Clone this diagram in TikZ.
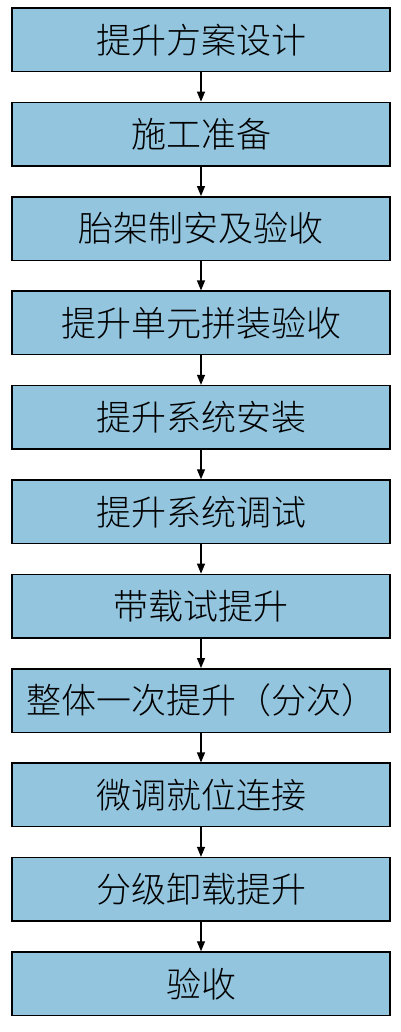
\documentclass[tikz,border=0pt]{standalone}
\usepackage{fontspec}
\newfontfamily\cjk{Noto Sans CJK SC Light}
\usetikzlibrary{arrows.meta}
\definecolor{boxfill}{RGB}{147,197,222}
\begin{document}
\begin{tikzpicture}[x=1pt,y=1pt,
  stepbox/.style={draw=black,line width=1.5pt,fill=boxfill,minimum width=378pt,minimum height=63.5pt,inner sep=0pt,font=\cjk\fontsize{35}{40}\selectfont},
  flow/.style={line width=1.2pt,-{Triangle[length=10pt,width=8pt]}}]
\useasboundingbox (0,0) rectangle (400,-1032);
\foreach \t [count=\i from 0] in {提升方案设计,施工准备,胎架制安及验收,提升单元拼装验收,提升系统安装,提升系统调试,带载试提升,整体一次提升（分次）,微调就位连接,分级卸载提升,验收}{
  \node[stepbox] (b\i) at (201,{-(39.75+94.4*\i)}) {\t};
}
\foreach \i [evaluate=\i as \j using int(\i+1)] in {0,...,9}{
  \draw[flow] (b\i.south) -- (b\j.north);
}
\end{tikzpicture}
\end{document}
